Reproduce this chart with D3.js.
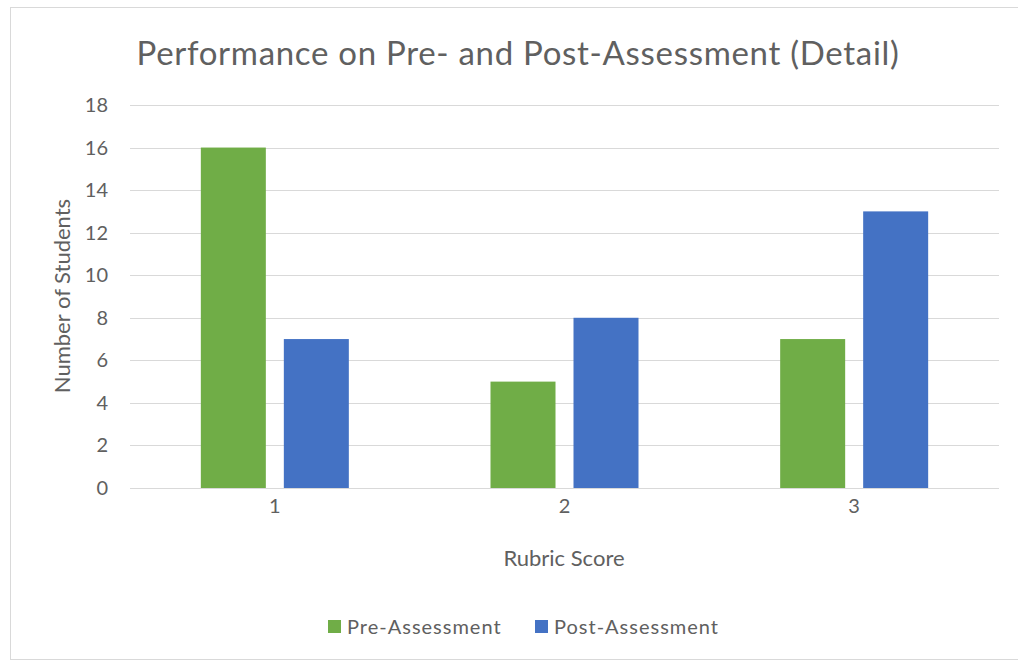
<!DOCTYPE html>
<html>
<head>
<meta charset="utf-8">
<script src="https://cdn.jsdelivr.net/npm/d3@7"></script>
<style>
  body { margin: 0; background: #fff; }
  text { font-family: Lato, "Open Sans", sans-serif; fill: #606060; }
</style>
</head>
<body>
<svg id="chart" width="1018" height="662"></svg>
<script>
// data
var categories = ['1', '2', '3'];
var seriesNames = ['Pre-Assessment', 'Post-Assessment'];
var preValues = [16, 5, 7];
var postValues = [7, 8, 13];
var yTicks = [0, 2, 4, 6, 8, 10, 12, 14, 16, 18];
var colors = ['#70ad47', '#4472c4'];

var svg = d3.select('#chart');

// outer chart frame
svg.append('rect')
    .attr('x', 10.5).attr('y', 7.5)
    .attr('width', 1020).attr('height', 652)
    .attr('fill', 'none')
    .attr('stroke', '#d9d9d9')
    .attr('stroke-width', 1);

var plot = { left: 130, right: 999, top: 105, bottom: 488 };

var xs = d3.scaleBand()
    .domain(categories)
    .range([plot.left, plot.right]);

var ys = d3.scaleLinear()
    .domain([0, 18])
    .range([plot.bottom, plot.top]);

// bars inside each band: 65px wide, 18px apart
var inner = d3.scaleBand()
    .domain(seriesNames)
    .range([0, 148])
    .paddingInner(18 / 83);
var groupOffset = (xs.bandwidth() - 148) / 2;

// gridlines
svg.append('g').selectAll('line')
    .data(yTicks)
    .enter().append('line')
    .attr('x1', plot.left).attr('x2', plot.right)
    .attr('y1', function (d) { return Math.round(ys(d)) + 0.5; })
    .attr('y2', function (d) { return Math.round(ys(d)) + 0.5; })
    .attr('stroke', '#d9d9d9')
    .attr('stroke-width', 1);

// y tick labels
svg.append('g').selectAll('text')
    .data(yTicks)
    .enter().append('text')
    .attr('x', 108)
    .attr('y', function (d) { return ys(d); })
    .attr('dy', '0.35em')
    .attr('text-anchor', 'end')
    .style('font-size', '20px')
    .text(function (d) { return d; });

var rows = categories.map(function (c, i) {
    return { cat: c, values: [preValues[i], postValues[i]] };
});

var groups = svg.append('g').selectAll('g')
    .data(rows)
    .enter().append('g')
    .attr('transform', function (d) { return 'translate(' + (xs(d.cat) + groupOffset) + ',0)'; });

groups.selectAll('rect')
    .data(function (d) { return d.values.map(function (v, j) { return { name: seriesNames[j], value: v, j: j }; }); })
    .enter().append('rect')
    .attr('x', function (d) { return inner(d.name); })
    .attr('y', function (d) { return ys(d.value); })
    .attr('width', inner.bandwidth())
    .attr('height', function (d) { return ys(0) - ys(d.value); })
    .attr('fill', function (d) { return colors[d.j]; });

// x tick labels
svg.append('g').selectAll('text')
    .data(categories)
    .enter().append('text')
    .attr('x', function (d) { return xs(d) + xs.bandwidth() / 2; })
    .attr('y', 513)
    .attr('text-anchor', 'middle')
    .style('font-size', '20px')
    .text(function (d) { return d; });

// titles
svg.append('text')
    .attr('x', 518).attr('y', 65)
    .attr('text-anchor', 'middle')
    .style('font-size', '33px')
    .style('letter-spacing', '0.7px')
    .text('Performance on Pre- and Post-Assessment (Detail)');

svg.append('text')
    .attr('x', 564).attr('y', 566)
    .attr('text-anchor', 'middle')
    .style('font-size', '22px')
    .text('Rubric Score');

svg.append('text')
    .attr('transform', 'translate(70,296) rotate(-90)')
    .attr('text-anchor', 'middle')
    .style('font-size', '22px')
    .text('Number of Students');

// legend
var legendX = [328, 535];
var legend = svg.append('g').selectAll('g')
    .data(seriesNames)
    .enter().append('g')
    .attr('transform', function (d, i) { return 'translate(' + legendX[i] + ',620)'; });

legend.append('rect')
    .attr('width', 13).attr('height', 13)
    .attr('fill', function (d, i) { return colors[i]; });

legend.append('text')
    .attr('x', 19).attr('y', 14)
    .style('font-size', '20px')
    .style('letter-spacing', '1px')
    .text(function (d) { return d; });
</script>
</body>
</html>
